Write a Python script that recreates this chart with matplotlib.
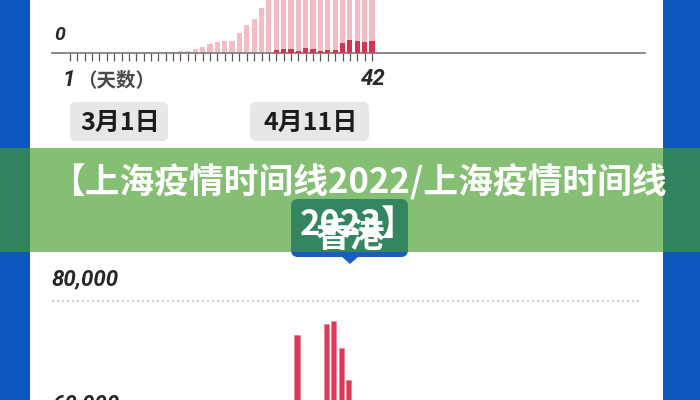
import matplotlib
matplotlib.use("Agg")
import matplotlib.pyplot as plt
from matplotlib.patches import FancyBboxPatch, Rectangle, Polygon

plt.rcParams['font.family'] = ['Noto Sans CJK SC', 'DejaVu Sans']

# ---------------- data ----------------
days_top = [1, 2, 3, 4, 5, 6, 7, 8, 9, 10, 11, 12, 13, 14, 15, 16, 17, 18, 19, 20, 21,
            22, 23, 24, 25, 26, 27, 28, 29, 30, 31, 32, 33, 34, 35, 36, 37, 38, 39, 40, 41, 42]
total_cases = [1, 2, 3, 5, 4, 9, 12, 15, 20, 24, 28, 30,
               25, 80, 90, 136, 190, 330, 450, 700, 850, 960, 960, 1580, 2240, 2720, 3580,
               4500, 5980, 5650, 4500, 6310, 8230, 9010, 13350, 17080, 20300, 22610, 24940, 25130, 26080,
               23340]
confirmed_cases = [0, 0, 0, 0, 0, 0, 0, 0, 2, 1, 1, 0, 4, 1, 2, 2, 5, 2, 4, 6, 1, 1, 1, 7, 9, 11, 12,
                   40, 260, 300, 300, 200, 380, 350, 190, 220, 240, 780, 1010, 980, 880, 960]
top_labels = ["0", "1", "（天数）", "42"]
date_labels = ["3月1日", "4月11日"]

days_bottom = [10, 14, 15, 16, 17]
hk_cases = [74560, 76320, 76850, 72530, 67360]
bottom_ticks = [60000, 80000]
bottom_ticklabels = ["60,000", "80,000"]

title_lines = ["【上海疫情时间线2022/上海疫情时间线", "2023】"]
badge_label = "香港"

# ---------------- style ----------------
BLUE = "#0f58c0"
PINK = "#f6bcc6"
DARK = "#d63252"
RED = "#dc3a5a"
NUM_FONT = dict(family=['Roboto', 'DejaVu Sans'], weight='bold', style='italic')

fig = plt.figure(figsize=(7, 4), dpi=100)
fig.patch.set_facecolor("white")

# background / frame (pixel coordinates)
ax_bg = fig.add_axes([0, 0, 1, 1], zorder=0)
ax_bg.set_xlim(0, 700); ax_bg.set_ylim(400, 0); ax_bg.axis('off')
ax_bg.add_patch(Rectangle((0, 0), 30, 400, color=BLUE, lw=0))
ax_bg.add_patch(Rectangle((663, 0), 37, 400, color=BLUE, lw=0))

# ---------------- top chart ----------------
PX_L, PX_R = 52, 645
d1_px, d42_px = 70, 372
step = (d42_px - d1_px) / 41.0
ax_top = fig.add_axes([PX_L / 700, 1 - 53 / 400, (PX_R - PX_L) / 700, 53 / 400], zorder=1)
ax_top.patch.set_alpha(0)
ax_top.set_xlim(1 + (PX_L - d1_px) / step, 1 + (PX_R - d1_px) / step)
ax_top.set_ylim(0, 53 * 80)
ax_top.bar(days_top, total_cases, width=0.7, color=PINK, lw=0, zorder=2)
ax_top.bar(days_top, confirmed_cases, width=0.7, color=DARK, lw=0, zorder=3)
for s in ['top', 'left', 'right']:
    ax_top.spines[s].set_visible(False)
ax_top.spines['bottom'].set_color('#808080')
ax_top.spines['bottom'].set_linewidth(1.3)
ax_top.set_yticks([])
ax_top.set_xticks(days_top)
ax_top.tick_params(axis='x', direction='out', length=6, width=0.9, color='#5a5a5a',
                   labelbottom=False, pad=0)
tr = ax_top.get_yaxis_transform()
ax_top.text(0.003, 1440, top_labels[0], transform=tr, ha='left', va='center',
            fontsize=14, color='#2a2a2a', **NUM_FONT)
ax_top.annotate(top_labels[1], xy=(days_top[0], 0), xytext=(-1, -19.5), textcoords='offset points',
                ha='center', va='center', fontsize=16, color='#2a2a2a', annotation_clip=False, **NUM_FONT)
ax_top.annotate(top_labels[2], xy=(days_top[0], 0), xytext=(5, -19.5), textcoords='offset points',
                ha='left', va='center', fontsize=14, color='#4a4a4a', fontweight='bold',
                annotation_clip=False)
ax_top.annotate(top_labels[3], xy=(days_top[-1], 0), xytext=(1, -18.5), textcoords='offset points',
                ha='center', va='center', fontsize=16, color='#2a2a2a', annotation_clip=False, **NUM_FONT)

# ---------------- bottom chart ----------------
b_step = step
b_ref_px = 297
ax_bot = fig.add_axes([PX_L / 700, 0, (PX_R - PX_L) / 700, 148 / 400], zorder=1)
ax_bot.patch.set_alpha(0)
ax_bot.set_xlim(days_bottom[0] + (PX_L - b_ref_px) / b_step, days_bottom[0] + (PX_R - b_ref_px) / b_step)
px_per_unit = 125 / 20000.0
ax_bot.set_ylim(80000 - 99 / px_per_unit, 80000 + 49 / px_per_unit)
ax_bot.bar(days_bottom, hk_cases, width=0.72, color=RED, edgecolor='#e9798f', lw=0.4, zorder=2)
for s in ax_bot.spines.values():
    s.set_visible(False)
ax_bot.set_xticks([]); ax_bot.set_yticks([])
for v, lab in zip(bottom_ticks, bottom_ticklabels):
    ax_bot.axhline(v, xmin=0, xmax=(640 - PX_L) / (PX_R - PX_L), color='#c4c4c4',
                   lw=1.2, ls=(0, (1.2, 1.8)), zorder=1)
    ax_bot.annotate(lab, xy=(0, v), xycoords=ax_bot.get_yaxis_transform(),
                    xytext=(0, 11.5), textcoords='offset points', ha='left', va='baseline',
                    fontsize=16, color='#262626', annotation_clip=False, **NUM_FONT)

# ---------------- foreground: date boxes, badge, banner, title ----------------
ax_fg = fig.add_axes([0, 0, 1, 1], zorder=2)
ax_fg.set_xlim(0, 700); ax_fg.set_ylim(400, 0); ax_fg.axis('off')
ax_fg.patch.set_alpha(0)

for (x0, x1), lab in zip([(70, 168), (250, 369)], date_labels):
    ax_fg.add_patch(FancyBboxPatch((x0, 102), x1 - x0, 39,
                                   boxstyle="round,pad=0,rounding_size=6",
                                   fc='#e7e7e7', ec='none'))
    ax_fg.text((x0 + x1) / 2 + 1, 123, lab, ha='center', va='center',
               fontsize=18, fontweight='bold', color='#1c1c1c')

ax_fg.add_patch(FancyBboxPatch((291, 199), 117, 58, boxstyle="round,pad=0,rounding_size=7",
                               fc='#1a5cc4', ec='none'))
ax_fg.add_patch(Polygon([(341, 256), (359, 256), (350, 264)], closed=True, fc='#1a5cc4', ec='none'))
ax_fg.text(350, 236, badge_label, ha='center', va='center', fontsize=25,
           fontweight='bold', color='white')

ax_fg.add_patch(Rectangle((0, 147.5), 700, 104.3, fc='#429d29', alpha=0.65, lw=0))

ax_fg.text(358, 182, title_lines[0], ha='center', va='center', fontsize=25,
           fontweight='black', color='white')
ax_fg.text(358, 224, title_lines[1], ha='center', va='center', fontsize=25,
           fontweight='black', color='white')

fig.savefig('out.png', dpi=100)
